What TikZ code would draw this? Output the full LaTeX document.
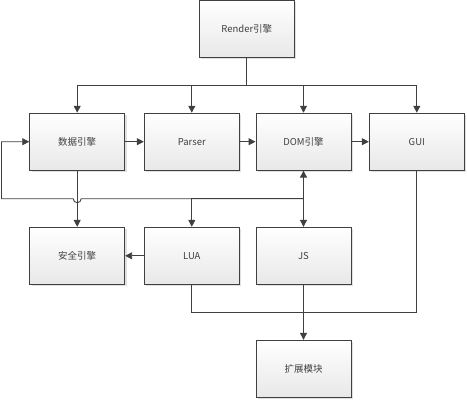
\documentclass[tikz,border=0pt]{standalone}
\usepackage{fontspec}
\setmainfont{Noto Sans CJK SC}
\usetikzlibrary{arrows.meta,shadows}
\definecolor{linec}{HTML}{404040}
\definecolor{textc}{HTML}{404040}
\tikzset{
  box/.style={draw=linec, line width=0.9pt, minimum width=95pt, minimum height=57pt,
    top color=white, bottom color=black!9, inner sep=0pt,
    font=\fontsize{9.5}{11}\selectfont, text=textc,
    drop shadow={shadow xshift=1.8pt, shadow yshift=-1.8pt, fill=black!12, opacity=1}},
  conn/.style={draw=linec, line width=0.9pt, -{Triangle[length=7pt,width=7pt]}},
  plain/.style={draw=linec, line width=0.9pt},
}
\begin{document}
\begin{tikzpicture}[x=1pt,y=-1pt]
\useasboundingbox (0,0) rectangle (467,400);
\node[box] (render) at (246.8,29) {Render引擎};
\node[box] (data) at (77.2,141.7) {数据引擎};
\node[box] (parser) at (191.8,141.7) {Parser};
\node[box] (dom) at (303.5,141.7) {DOM引擎};
\node[box] (gui) at (416.8,141.7) {GUI};
\node[box] (safe) at (77.2,255.8) {安全引擎};
\node[box] (lua) at (191.8,255.8) {LUA};
\node[box] (js) at (303.5,255.8) {JS};
\node[box] (ext) at (303.5,368.8) {扩展模块};
% top distribution
\coordinate (t) at (246.8,85.3);
\draw[plain] (render.south) -- (t);
\draw[conn] (t) -| (data.north);
\draw[conn] (t) -| (parser.north);
\draw[conn] (t) -| (dom.north);
\draw[conn] (t) -| (gui.north);
% row 1 chain
\draw[conn] (data) -- (parser);
\draw[conn] (parser) -- (dom);
\draw[conn] (dom) -- (gui);
% data -> safe
\draw[conn] (data) -- (safe);
% DOM <-> JS
\draw[conn, {Triangle[length=7pt,width=7pt]}-{Triangle[length=7pt,width=7pt]}] (dom) -- (js);
% junction line
\coordinate (j) at (303.5,198.7);
\coordinate (l) at (1.5,198.7);
\draw[conn] (j) -| (lua.north);
\draw[conn] (j) -- (81.2,198.7) arc[start angle=0, end angle=180, radius=4] -- (l) |- (data.west);
% LUA -> safe
\draw[conn] (lua) -- (safe);
% bottom merge
\coordinate (b) at (303.5,312.3);
\draw[plain] (lua.south) |- (b);
\draw[plain] (gui.south) |- (b);
\draw[conn] (js) -- (ext);
\end{tikzpicture}
\end{document}
